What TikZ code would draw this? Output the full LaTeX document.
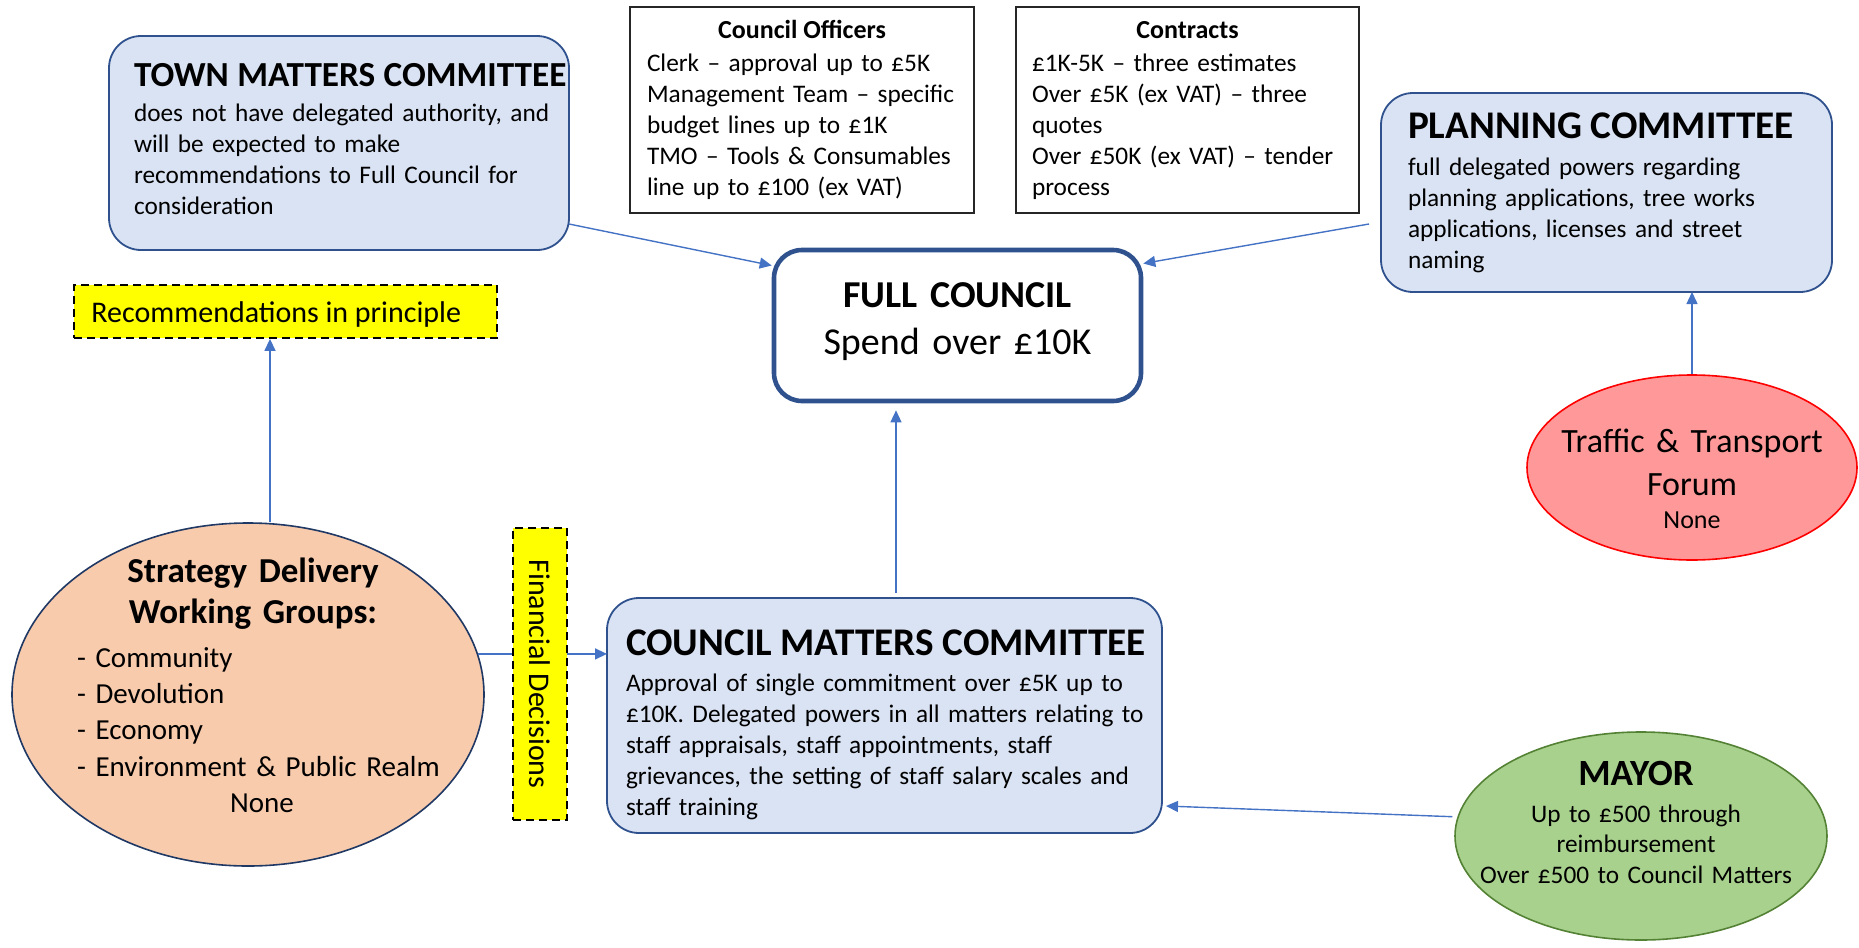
\documentclass[tikz,border=0pt]{standalone}
\usepackage{fontspec}
\setmainfont{Carlito}
\usetikzlibrary{arrows.meta,shapes.geometric}
\definecolor{boxfill}{HTML}{DAE3F3}
\definecolor{boxline}{HTML}{2F528F}
\definecolor{arrowblue}{HTML}{4472C4}
\definecolor{peach}{HTML}{F8CBAD}
\definecolor{navyline}{HTML}{203864}
\definecolor{pinkfill}{HTML}{FF9999}
\definecolor{greenfill}{HTML}{A9D18E}
\definecolor{greenline}{HTML}{548235}
\definecolor{yellowfill}{HTML}{FFFF00}
\begin{document}
\begin{tikzpicture}[x=0.5pt,y=-0.5pt,
  bluebox/.style={draw=boxline,fill=boxfill,line width=0.9pt,rounded corners=16pt,inner sep=0pt,outer sep=0pt},
  fcbox/.style={draw=boxline,fill=white,line width=2.3pt,rounded corners=14pt,inner sep=0pt},
  plainbox/.style={draw=black!85,line width=0.7pt,fill=white,inner sep=0pt},
  yelbox/.style={draw=black,fill=yellowfill,line width=0.9pt,dash pattern=on 4pt off 2.5pt,inner sep=0pt},
  bubble/.style={ellipse,inner sep=0pt,line width=0.8pt},
  body/.style={inner sep=0pt,outer sep=0pt,font=\fontsize{12.65}{15.5}\selectfont,text width=#1,align=left},
  ctext/.style={inner sep=0pt,outer sep=0pt,text width=#1,align=center},
  arr/.style={draw=arrowblue,line width=0.7pt,-{Triangle[length=6pt,width=5.5pt]}}
]
\useasboundingbox (0,0) rectangle (1859,948);

% Town Matters
\node[bluebox,minimum width=230pt,minimum height=107pt] (town) at (339,143) {};
\node[body=240pt,anchor=north west] (townT) at (134,54) {\rule{0pt}{16pt}{\fontsize{17.6}{20}\selectfont\bfseries TOWN MATTERS COMMITTEE}\\[2pt] does not have delegated authority, and\\ will be expected to make\\ recommendations to Full Council for\\ consideration};

% Council Officers
\node[plainbox,minimum width=172pt,minimum height=103pt] (off) at (802,110) {};
\node[anchor=base,inner sep=0pt,font=\fontsize{13}{15.5}\selectfont\bfseries] (offT) at (802,38) {Council Officers};
\node[body=165pt,anchor=north west] (offB) at (647,49) {\rule{0pt}{11pt}Clerk – approval up to £5K\\ Management Team – specific\\ budget lines up to £1K\\ TMO – Tools \& Consumables\\ line up to £100 (ex VAT)};

% Contracts
\node[plainbox,minimum width=171.5pt,minimum height=103pt] (con) at (1187.5,110) {};
\node[anchor=base,inner sep=0pt,font=\fontsize{13}{15.5}\selectfont\bfseries] (conT) at (1187.5,38) {Contracts};
\node[body=165pt,anchor=north west] (conB) at (1032,49) {\rule{0pt}{11pt}£1K-5K – three estimates\\ Over £5K (ex VAT) – three\\ quotes\\ Over £50K (ex VAT) – tender\\ process};

% Full Council
\node[fcbox,minimum width=183.5pt,minimum height=75.5pt] (fc) at (957.5,325.5) {};
\node[ctext=180pt,anchor=north,font=\fontsize{19}{23.5}\selectfont] (fcT) at (957.5,271) {\rule{0pt}{18pt}\textbf{FULL COUNCIL}\\ Spend over £10K};

% Planning
\node[bluebox,minimum width=225.5pt,minimum height=99.5pt] (plan) at (1606.5,192.5) {};
\node[body=215pt,anchor=north west] (planT) at (1408,106) {\rule{0pt}{16pt}{\fontsize{19.6}{20}\selectfont\bfseries PLANNING COMMITTEE}\\[3pt] full delegated powers regarding\\ planning applications, tree works\\ applications, licenses and street\\ naming};

% Recommendations
\node[yelbox,minimum width=211.5pt,minimum height=26.5pt] (rec) at (285.5,311.5) {};
\node[anchor=base west,inner sep=0pt,font=\fontsize{15}{18}\selectfont] (recT) at (91,322) {Recommendations in principle};

% Traffic & Transport
\node[bubble,draw=red,fill=pinkfill,minimum width=165pt,minimum height=92.5pt] (tt) at (1692,467.5) {};
\node[ctext=160pt,anchor=north,font=\fontsize{17}{21.5}\selectfont] (ttT) at (1692,420) {\rule{0pt}{16pt}Traffic \& Transport\\ Forum\\[-5pt] {\fontsize{13}{15.5}\selectfont None}};

% Strategy Delivery
\node[bubble,draw=navyline,fill=peach,minimum width=236pt,minimum height=171.5pt] (sd) at (248,694.5) {};
\node[ctext=230pt,anchor=north,font=\fontsize{17.5}{20.5}\selectfont\bfseries] (sdT) at (253,550) {\rule{0pt}{16pt}Strategy Delivery\\ Working Groups:};
\node[body=220pt,anchor=north west,font=\fontsize{14.5}{18.2}\selectfont] (sdL) at (77,639) {\rule{0pt}{14pt}- Community\\ - Devolution\\ - Economy\\ - Environment \& Public Realm};
\node[anchor=base,inner sep=0pt,font=\fontsize{14.5}{18}\selectfont] (sdN) at (262,812) {None};

% Council Matters
\node[bluebox,minimum width=277.5pt,minimum height=117.5pt] (cm) at (884.5,715.5) {};
\node[body=275pt,anchor=north west] (cmT) at (626,623) {\rule{0pt}{16pt}{\fontsize{19.6}{20}\selectfont\bfseries COUNCIL MATTERS COMMITTEE}\\[2.5pt] Approval of single commitment over £5K up to\\ £10K. Delegated powers in all matters relating to\\ staff appraisals, staff appointments, staff\\ grievances, the setting of staff salary scales and\\ staff training};

% Mayor
\node[bubble,draw=greenline,fill=greenfill,minimum width=186pt,minimum height=104pt] (mayor) at (1641,836) {};
\node[ctext=180pt,anchor=north,font=\fontsize{12.65}{15.3}\selectfont] (mayorT) at (1636,753) {\rule{0pt}{16pt}{\fontsize{18.5}{20}\selectfont\bfseries MAYOR}\\[3.2pt] Up to £500 through\\ reimbursement\\ Over £500 to Council Matters};

% Connectors
\draw[arr] ([yshift=-40.5pt]town.east) -- ([yshift=30pt]fc.west);
\draw[arr] ([xshift=-6pt,yshift=-15.75pt]plan.west) -- ([yshift=31pt]fc.east);
\draw[arr] ([xshift=5.75pt,yshift=2.5pt]cm.north) -- ([xshift=-30.75pt,yshift=-3.5pt]fc.south);
\draw[arr] ([xshift=11pt]sd.north) -- ([xshift=-7.75pt]rec.south);
\draw[arr] (sd.10.8) -- (sd.10.8 -| cm.west);
\draw[arr] (tt.north) -- (tt.north |- plan.south);
\draw[arr] ([xshift=-2.5pt]mayor.174.8) -- ([xshift=2pt,yshift=-45.25pt]cm.east);

% Financial Decisions (over the connector)
\node[yelbox,minimum width=27pt,minimum height=146pt] (fin) at (540,674) {};
\node[rotate=-90,inner sep=0pt,font=\fontsize{15}{18}\selectfont] (finT) at (540,674) {Financial Decisions};
\end{tikzpicture}
\end{document}
